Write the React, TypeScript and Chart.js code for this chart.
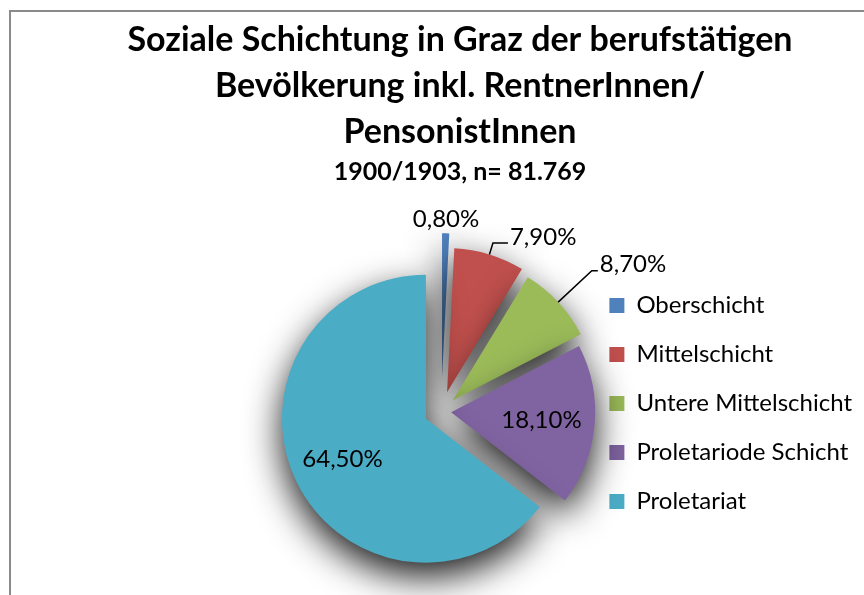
import React, { useEffect, useRef } from 'react';
import { Chart, registerables } from 'chart.js';

Chart.register(...registerables);

// ---- data ----
const categories = ['Oberschicht', 'Mittelschicht', 'Untere Mittelschicht', 'Proletariode Schicht', 'Proletariat'];
const shares = [0.8, 7.9, 8.7, 18.1, 64.5];
const titleLines = ['Soziale Schichtung in Graz der berufstätigen', 'Bevölkerung inkl. RentnerInnen/', 'PensonistInnen'];
const subtitleText = '1900/1903, n= 81.769';

// ---- styles ----
const colors = ['#4F81BD', '#C0504D', '#9BBB59', '#8064A2', '#4BACC6'];
const explode = [34, 20, 16, 10, 17];
type LabelStyle =
  | { mode: 'inside'; frac: number }
  | { mode: 'outside'; dist: number }
  | { mode: 'leader'; ext: number; run: number };
const labelStyles: LabelStyle[] = [
  { mode: 'outside', dist: 14 },
  { mode: 'leader', ext: 12, run: 15 },
  { mode: 'leader', ext: 46, run: 6 },
  { mode: 'inside', frac: 0.63 },
  { mode: 'inside', frac: 0.645 },
];
const FONT = 'Lato';
const CANVAS_W = 862;
const CANVAS_H = 807;

const fmt = (v: number) => v.toFixed(2).replace('.', ',') + '%';

const explodePlugin = {
  id: 'explodeSlices',
  afterDatasetUpdate(chart: any, args: any) {
    const meta = args.meta;
    meta.data.forEach((arc: any, i: number) => {
      const mid = (arc.startAngle + arc.endAngle) / 2;
      arc.x += (explode[i] || 0) * Math.cos(mid);
      arc.y += (explode[i] || 0) * Math.sin(mid);
    });
  },
};

const shadowLabelPlugin = {
  id: 'shadowLabels',
  beforeDatasetsDraw(chart: any) {
    const ctx = chart.ctx;
    ctx.save();
    ctx.shadowColor = 'rgba(0,0,0,0.9)';
    ctx.shadowBlur = 36;
    ctx.shadowOffsetX = 0;
    ctx.shadowOffsetY = 14;
  },
  afterDatasetsDraw(chart: any) {
    const ctx = chart.ctx;
    ctx.restore();
    const meta = chart.getDatasetMeta(0);
    ctx.save();
    ctx.font = `24px ${FONT}`;
    ctx.fillStyle = '#000';
    ctx.strokeStyle = '#000';
    ctx.lineWidth = 1.5;
    meta.data.forEach((arc: any, i: number) => {
      const { x, y, startAngle, endAngle, outerRadius } = arc;
      const mid = (startAngle + endAngle) / 2;
      const c = Math.cos(mid);
      const s = Math.sin(mid);
      const st = labelStyles[i];
      const text = fmt(shares[i]);
      if (st.mode === 'inside') {
        ctx.textAlign = 'center';
        ctx.textBaseline = 'middle';
        ctx.fillText(text, x + c * outerRadius * st.frac, y + s * outerRadius * st.frac);
      } else if (st.mode === 'outside') {
        ctx.textAlign = 'center';
        ctx.textBaseline = 'middle';
        const r = outerRadius + st.dist;
        ctx.fillText(text, x + c * r, y + s * r);
      } else {
        const x0 = x + c * outerRadius;
        const y0 = y + s * outerRadius;
        const r1 = outerRadius + st.ext;
        const x1 = x + c * r1;
        const y1 = y + s * r1;
        const x2 = x1 + st.run;
        ctx.beginPath();
        ctx.moveTo(x0, y0);
        ctx.lineTo(x1, y1);
        ctx.lineTo(x2, y1);
        ctx.stroke();
        ctx.textAlign = 'left';
        ctx.textBaseline = 'middle';
        ctx.fillText(text, x2 + 2, y1 - 6);
      }
    });
    ctx.restore();
  },
};

export default function App() {
  const ref = useRef<HTMLCanvasElement | null>(null);

  useEffect(() => {
    if (!ref.current) return;
    Chart.defaults.font.family = FONT;
    const chart = new Chart(ref.current, {
      type: 'pie',
      data: {
        labels: categories,
        datasets: [
          {
            data: shares,
            backgroundColor: colors,
            borderWidth: 0,
            radius: 144,
            clip: false as any,
          } as any,
        ],
      },
      options: {
        responsive: false,
        animation: false,
        events: [],
        layout: { padding: { left: 58, right: 0, top: 0, bottom: 0 } },
        scales: {
          spacerLeft: {
            type: 'linear',
            position: 'left',
            display: true,
            grid: { display: false },
            border: { display: false },
            ticks: { display: false },
            afterFit: (s: any) => {
              s.width = 240;
            },
          },
          spacerBottom: {
            type: 'linear',
            position: 'bottom',
            display: true,
            grid: { display: false },
            border: { display: false },
            ticks: { display: false },
            afterFit: (s: any) => {
              s.height = 181;
            },
          },
        } as any,
        plugins: {
          title: {
            display: true,
            text: titleLines,
            color: '#000',
            font: { family: FONT, size: 34, weight: 'bold', lineHeight: 46 / 34 },
            padding: { top: 17, bottom: 0 },
          },
          subtitle: {
            display: true,
            text: subtitleText,
            color: '#000',
            font: { family: FONT, size: 25, weight: 'bold', lineHeight: 1.2 },
            padding: { top: 1.5, bottom: 10 },
          },
          legend: {
            position: 'right',
            align: 'center',
            maxWidth: 600,
            labels: {
              color: '#000',
              font: { family: FONT, size: 24 },
              boxWidth: 15,
              boxHeight: 15,
              padding: 25,
            },
          },
          tooltip: { enabled: false },
        },
      } as any,
      plugins: [explodePlugin, shadowLabelPlugin],
    });
    return () => chart.destroy();
  }, []);

  return (
    <div
      style={{
        position: 'fixed',
        left: 0,
        top: 0,
        width: 864,
        height: 595,
        overflow: 'hidden',
        background: '#fff',
      }}
    >
      <div
        style={{
          position: 'absolute',
          left: 9,
          top: 10,
          width: 900,
          height: 700,
          borderLeft: '2px solid #8a8a8a',
          borderTop: '2px solid #8a8a8a',
        }}
      />
      <canvas
        ref={ref}
        width={CANVAS_W}
        height={CANVAS_H}
        style={{ position: 'absolute', left: 0, top: 0, display: 'block' }}
      />
    </div>
  );
}
